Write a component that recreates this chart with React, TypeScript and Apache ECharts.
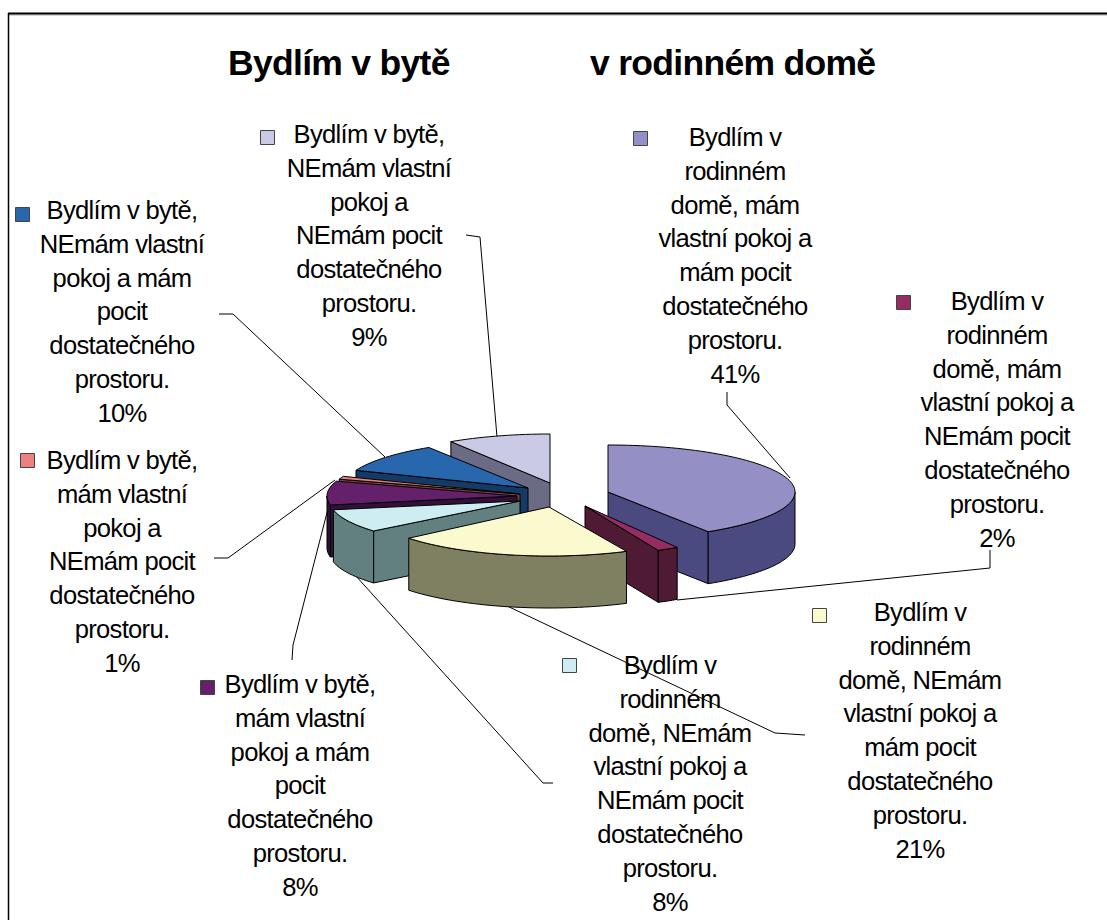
import React, { useEffect, useRef } from "react";
import * as echarts from "echarts";

const categories = [
  "Bydlím v\nrodinném\ndomě, mám\nvlastní pokoj a\nmám pocit\ndostatečného\nprostoru.",
  "Bydlím v\nrodinném\ndomě, mám\nvlastní pokoj a\nNEmám pocit\ndostatečného\nprostoru.",
  "Bydlím v\nrodinném\ndomě, NEmám\nvlastní pokoj a\nmám pocit\ndostatečného\nprostoru.",
  "Bydlím v\nrodinném\ndomě, NEmám\nvlastní pokoj a\nNEmám pocit\ndostatečného\nprostoru.",
  "Bydlím v bytě,\nmám vlastní\npokoj a mám\npocit\ndostatečného\nprostoru.",
  "Bydlím v bytě,\nmám vlastní\npokoj a\nNEmám pocit\ndostatečného\nprostoru.",
  "Bydlím v bytě,\nNEmám vlastní\npokoj a mám\npocit\ndostatečného\nprostoru.",
  "Bydlím v bytě,\nNEmám vlastní\npokoj a\nNEmám pocit\ndostatečného\nprostoru.",
];
const values = [41, 2, 21, 8, 8, 1, 10, 9];
const titleParts = ["Bydlím v bytě", "v rodinném domě"];

const topColors = ["#9490c5", "#952c62", "#fbf9ce", "#ceedf2", "#65206b", "#e87f7d", "#2866ae", "#cbcae6"];
const wallColors = ["#4b4a80", "#4f1a33", "#7f8062", "#61807f", "#33103a", "#7a4040", "#143a66", "#6b6b85"];
const keyColors = ["#9490c5", "#952c62", "#fbf9ce", "#ceedf2", "#65206b", "#f08080", "#2866ae", "#cbcae6"];

// painter's order, back to front
const drawOrder = [0, 7, 6, 5, 4, 3, 1, 2];
// layout of each exploded slice: apex x, apex y, radius x, radius y
const sliceLayout = [
  [608, 492, 187, 47],
  [585, 506, 172, 49],
  [549, 507, 182, 49],
  [520, 501, 190, 47],
  [517, 496, 190, 48],
  [520, 494, 190, 48],
  [528, 488, 185, 48],
  [550, 483, 185, 49],
];
const wallHeight = 52;
// label centre x, first line y, key x, key y
const labelLayout = [
  [735, 120, 633, 131],
  [997, 284, 896, 295],
  [920, 595, 812, 608],
  [670, 648, 562, 658],
  [300, 667, 200, 680],
  [122, 443, 20, 453],
  [122, 193, 15, 207],
  [369, 117, 260, 130],
];
const leaders = [
  [[727, 392], [727, 405], [790, 478]],
  [[990, 550], [990, 568], [677, 600]],
  [[805, 735], [775, 733], [505, 605]],
  [[553, 783], [543, 783], [355, 575]],
  [[292, 660], [293, 645], [331, 497]],
  [[214, 558], [228, 558], [335, 480]],
  [[219, 314], [233, 314], [385, 457]],
  [[466, 235], [480, 237], [497, 437]],
];

const total = values.reduce((a, b) => a + b, 0);
const startAngles = values.map((_, i) => (values.slice(0, i).reduce((a, b) => a + b, 0) / total) * 360);

function renderItem(_params: any, api: any) {
  const i = api.value(0) as number;
  const span = (api.value(1) as number) / total * 360;
  const [cx, cy, a, b] = sliceLayout[i];
  const t1 = startAngles[i];
  const t2 = t1 + span;
  const pt = (deg: number): number[] => {
    const r = (deg * Math.PI) / 180;
    return [cx + a * Math.sin(r), cy - b * Math.cos(r)];
  };
  const arc = (from: number, to: number): number[][] => {
    const n = Math.max(2, Math.ceil((to - from) / 2));
    const out: number[][] = [];
    for (let k = 0; k <= n; k++) out.push(pt(from + ((to - from) * k) / n));
    return out;
  };
  const drop = (p: number[]) => [p[0], p[1] + wallHeight];
  const children: any[] = [];
  const edge = { fill: wallColors[i], stroke: "#000", lineWidth: 1 };
  const quad = (p: number[]) => ({
    type: "polygon",
    shape: { points: [[cx, cy], p, drop(p), [cx, cy + wallHeight]] },
    style: edge,
  });
  if (t1 > 180) children.push(quad(pt(t1)));
  if (t2 < 180) children.push(quad(pt(t2)));
  const f = Math.max(t1, 90);
  const t = Math.min(t2, 270);
  if (t > f) {
    const top = arc(f, t);
    children.push({
      type: "polygon",
      shape: { points: [...top, ...top.slice().reverse().map(drop)] },
      style: edge,
    });
  }
  children.push({
    type: "polygon",
    shape: { points: [[cx, cy], ...arc(t1, t2)] },
    style: { fill: topColors[i], stroke: "#000", lineWidth: 1 },
  });
  return { type: "group", children };
}

export default function App() {
  const ref = useRef<HTMLDivElement>(null);
  useEffect(() => {
    const chart = echarts.init(ref.current!, null, { renderer: "svg" });
    const font = "Liberation Sans";
    const graphics: any[] = [
      {
        type: "line",
        shape: { x1: 8, y1: 15, x2: 1107, y2: 15 },
        style: { stroke: "#aaa", lineWidth: 1 },
        z: -1,
      },
      {
        type: "line",
        shape: { x1: 8, y1: 13.5, x2: 1107, y2: 13.5 },
        style: { stroke: "#000", lineWidth: 2 },
      },
      {
        type: "line",
        shape: { x1: 8.5, y1: 13, x2: 8.5, y2: 920 },
        style: { stroke: "#000", lineWidth: 1.5 },
      },
    ];
    leaders.forEach((points) =>
      graphics.push({
        type: "polyline",
        shape: { points },
        style: { fill: "none", stroke: "#000", lineWidth: 1 },
      })
    );
    categories.forEach((c, i) => {
      const [x, y, kx, ky] = labelLayout[i];
      graphics.push({
        type: "text",
        x,
        y,
        style: {
          text: `${c}\n${values[i]}%`,
          fill: "#000",
          font: `25.6px "${font}"`,
          lineHeight: 33.8,
          align: "center",
          verticalAlign: "top",
        },
      });
      graphics.push({
        type: "rect",
        shape: { x: kx + 0.5, y: ky + 0.5, width: 14, height: 14 },
        style: { fill: keyColors[i], stroke: "#444", lineWidth: 1 },
      });
    });
    const titleStyle = { fontFamily: font, fontSize: 35.5, fontWeight: "bold", color: "#000" };
    chart.setOption({
      animation: false,
      backgroundColor: "#fff",
      title: [
        { text: titleParts[0], left: 228, top: 45, padding: 0, textStyle: titleStyle },
        { text: titleParts[1], left: 590, top: 45, padding: 0, textStyle: titleStyle },
      ],
      graphic: graphics,
      series: [
        {
          type: "custom",
          coordinateSystem: "none",
          renderItem,
          silent: true,
          data: drawOrder.map((i) => [i, values[i]]),
          z: 5,
        },
      ],
    });
    return () => chart.dispose();
  }, []);
  return (
    <div
      ref={ref}
      style={{ position: "fixed", left: 0, top: 0, width: 1107, height: 920, letterSpacing: "-0.7px" }}
    />
  );
}
